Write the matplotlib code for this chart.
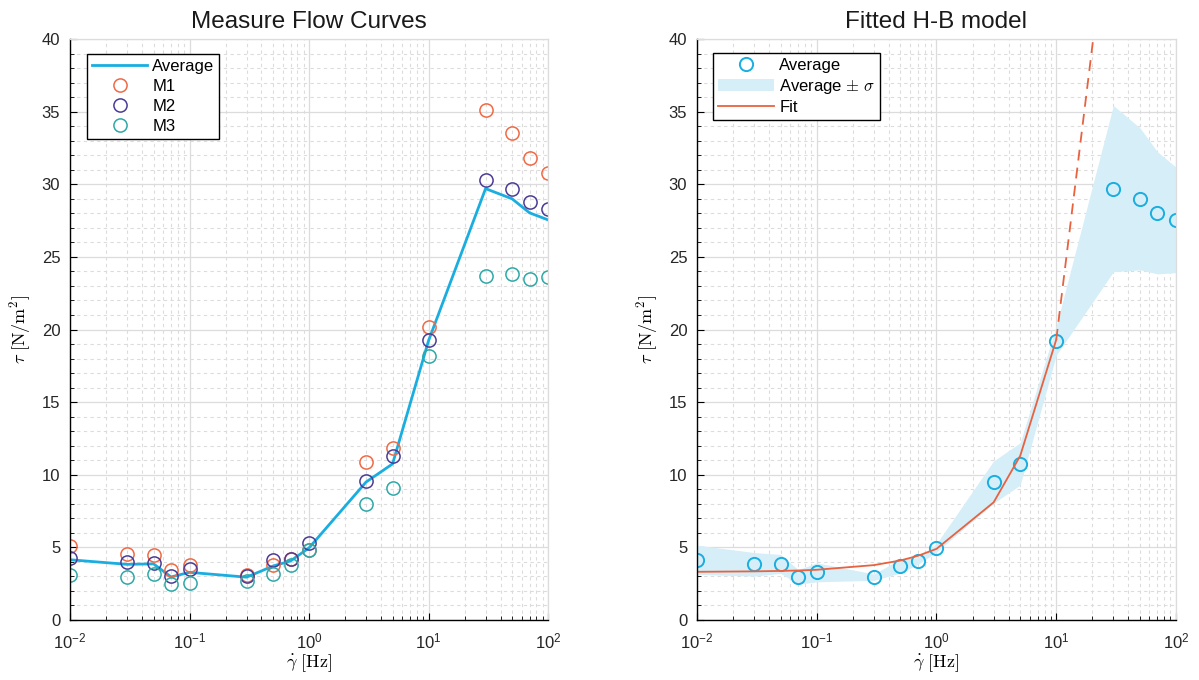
import numpy as np
import matplotlib
matplotlib.use("Agg")
import matplotlib.pyplot as plt
from matplotlib.ticker import LogLocator, MultipleLocator, NullFormatter

plt.rcParams['font.family'] = ['Liberation Sans', 'DejaVu Sans']
plt.rcParams['mathtext.fontset'] = 'cm'

shear_rate = [0.01, 0.03, 0.05, 0.07, 0.1, 0.3, 0.5, 0.7, 1, 3, 5, 10, 30, 50, 70, 100]
m1 = [5.1, 4.55, 4.5, 3.45, 3.8, 3.1, 3.8, 4.2, 4.8, 10.9, 11.85, 20.2, 35.1, 33.5, 31.8, 30.75]
m2 = [4.25, 4.0, 3.9, 3.0, 3.5, 3.05, 4.15, 4.2, 5.3, 9.6, 11.3, 19.3, 30.3, 29.7, 28.8, 28.3]
m3 = [3.1, 2.95, 3.2, 2.45, 2.55, 2.7, 3.2, 3.8, 4.8, 8.0, 9.1, 18.2, 23.7, 23.8, 23.5, 23.6]

fit_x = [0.01, 0.03, 0.05, 0.07, 0.1, 0.3, 0.5, 0.7, 1, 3, 5, 10]
fit_y = [3.32, 3.35, 3.38, 3.41, 3.46, 3.78, 4.1, 4.42, 4.9, 8.1, 11.3, 19.3]
extrap_x = [10, 30]
extrap_y = [19.3, 51.3]

x = np.array(shear_rate)
M = np.vstack([m1, m2, m3])
avg = M.mean(axis=0)
sd = M.std(axis=0, ddof=1)

c_avg = '#1aaee0'
c_m1 = '#ef6a45'
c_m2 = '#4a3c96'
c_m3 = '#2ea8a6'
c_band = '#d6eef8'
c_fit = '#e8623f'

fig = plt.figure(figsize=(11.99, 6.8), dpi=100)
ax1 = fig.add_axes([0.0584, 0.0882, 0.3987, 0.8544])
ax2 = fig.add_axes([0.5813, 0.0882, 0.3995, 0.8544])

def style(ax, title):
    ax.set_xscale('log')
    ax.set_xlim(1e-2, 1e2)
    ax.set_ylim(0, 40)
    ax.yaxis.set_major_locator(MultipleLocator(5))
    ax.yaxis.set_minor_locator(MultipleLocator(1))
    ax.xaxis.set_major_locator(LogLocator(base=10, numticks=10))
    ax.xaxis.set_minor_locator(LogLocator(base=10, subs=np.arange(2, 10), numticks=20))
    ax.xaxis.set_minor_formatter(NullFormatter())
    ax.grid(True, which='major', color='#dcdcdc', lw=0.9, ls='-')
    ax.grid(True, which='minor', color='#dcdcdc', lw=0.8, ls=(0, (3, 3)))
    ax.set_axisbelow(True)
    for s in ['top', 'right']:
        ax.spines[s].set_color('#dcdcdc')
        ax.spines[s].set_linewidth(0.9)
    for s in ['left', 'bottom']:
        ax.spines[s].set_color('black')
        ax.spines[s].set_linewidth(1.0)
    ax.tick_params(which='both', direction='in', labelsize=12, colors='black',
                   labelcolor='#262626')
    ax.tick_params(which='major', length=5)
    ax.tick_params(which='minor', length=3)
    ax.tick_params(axis='x', which='major', pad=8)
    ax.tick_params(axis='y', which='major', pad=7)
    ax.set_title(title, fontsize=17.5, color='#1a1a1a', pad=8)
    ax.set_xlabel(r'$\dot{\gamma}\ [\mathrm{Hz}]$', fontsize=13, labelpad=1)
    ax.set_ylabel(r'$\tau\ [\mathrm{N/m^2}]$', fontsize=13, labelpad=6)

style(ax1, 'Measure Flow Curves')
style(ax2, 'Fitted H-B model')

ax1.plot(x, avg, color=c_avg, lw=2, label='Average')
ax1.plot(x, m1, 'o', mfc='none', mec=c_m1, ms=9.5, mew=1.1, label='M1')
ax1.plot(x, m2, 'o', mfc='none', mec=c_m2, ms=9.5, mew=1.1, label='M2')
ax1.plot(x, m3, 'o', mfc='none', mec=c_m3, ms=9.5, mew=1.1, label='M3')
leg1 = ax1.legend(loc='upper left', bbox_to_anchor=(0.036, 0.974), borderaxespad=0,
                  fontsize=12, fancybox=False, edgecolor='black', framealpha=1,
                  handlelength=3.3, borderpad=0.3, labelspacing=0.3, handletextpad=0.3)
leg1.get_frame().set_linewidth(1.0)

ax2.fill_between(x, avg - sd, avg + sd, color=c_band, lw=0, label=r'Average $\pm$ $\sigma$')
ax2.plot(x, avg, 'o', mfc='none', mec=c_avg, ms=9.5, mew=1.4, label='Average')
ax2.plot(fit_x, fit_y, color=c_fit, lw=1.3, label='Fit')
ax2.plot(extrap_x, extrap_y, color=c_fit, lw=1.3, ls=(0, (6, 4)))
h, l = ax2.get_legend_handles_labels()
order = [1, 0, 2]
leg2 = ax2.legend([h[i] for i in order], [l[i] for i in order], loc='upper left',
                  bbox_to_anchor=(0.033, 0.976), borderaxespad=0, fontsize=12,
                  fancybox=False, edgecolor='black', framealpha=1,
                  handlelength=3.4, borderpad=0.3, labelspacing=0.25, handletextpad=0.3)
leg2.get_frame().set_linewidth(1.0)

fig.savefig('out.png', dpi=100, facecolor='white')
